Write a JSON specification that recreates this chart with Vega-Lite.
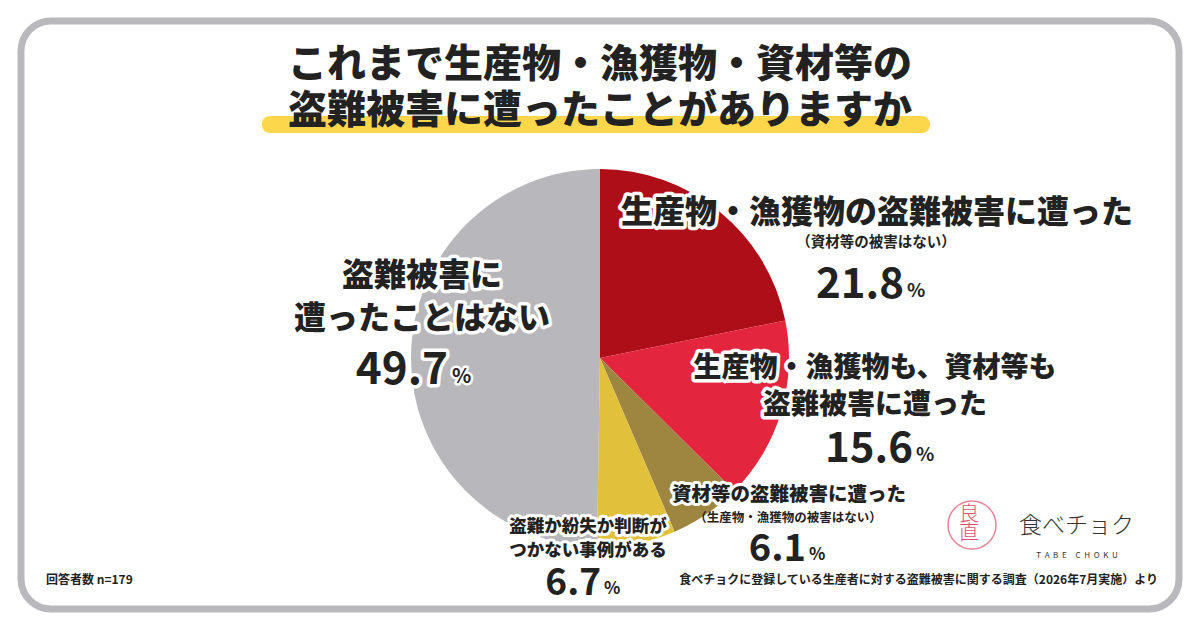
{
  "$schema": "https://vega.github.io/schema/vega-lite/v6.json",
  "width": 1158,
  "height": 588,
  "padding": 21,
  "autosize": "none",
  "background": "white",
  "config": {
    "view": {"stroke": "#b9b8bc", "strokeWidth": 7, "cornerRadius": 30},
    "text": {"font": "Noto Sans CJK JP", "color": "#222222"}
  },
  "datasets": {
    "answers": [
      {"category": "生産物・漁獲物の盗難被害に遭った", "label": "生産物・漁獲物の盗難被害に遭った", "note": "（資材等の被害はない）", "pct": 21.8, "order": 1},
      {"category": "生産物・漁獲物も、資材等も盗難被害に遭った", "label": "生産物・漁獲物も、資材等も\n盗難被害に遭った", "note": "", "pct": 15.6, "order": 2},
      {"category": "資材等の盗難被害に遭った", "label": "資材等の盗難被害に遭った", "note": "（生産物・漁獲物の被害はない）", "pct": 6.1, "order": 3},
      {"category": "盗難か紛失か判断がつかない事例がある", "label": "盗難か紛失か判断が\nつかない事例がある", "note": "", "pct": 6.7, "order": 4},
      {"category": "盗難被害に遭ったことはない", "label": "盗難被害に\n遭ったことはない", "note": "", "pct": 49.7, "order": 5}
    ],
    "deco": [{"title": "これまで生産物・漁獲物・資材等の\n盗難被害に遭ったことがありますか", "n": "回答者数 n=179", "source": "食べチョクに登録している生産者に対する盗難被害に関する調査（2026年7月実施）より", "brand": "食べチョク", "brandLatin": "T\u00a0\u00a0A\u00a0\u00a0B\u00a0\u00a0E\u00a0\u00a0\u00a0\u00a0\u00a0C\u00a0\u00a0H\u00a0\u00a0O\u00a0\u00a0K\u00a0\u00a0U"}]
  },
  "data": {"name": "answers"},
  "layer": [
    {
      "data": {"name": "deco"},
      "mark": {"type": "rect", "color": "#fcd74c", "cornerRadius": 8},
      "encoding": {"x": {"value": 241}, "x2": {"value": 909}, "y": {"value": 95}, "y2": {"value": 112}}
    },
    {
      "data": {"name": "deco"},
      "mark": {"type": "text", "fontSize": 39, "fontWeight": 900, "align": "center", "baseline": "middle", "lineBreak": "\n", "lineHeight": 46},
      "encoding": {"text": {"field": "title"}, "x": {"value": 579}, "y": {"value": 44}}
    },
    {
      "mark": {"type": "arc", "outerRadius": 189},
      "encoding": {
        "theta": {"field": "pct", "type": "quantitative", "stack": true},
        "order": {"field": "order", "type": "quantitative"},
        "color": {"field": "category", "type": "nominal", "legend": null,
          "scale": {"domain": ["生産物・漁獲物の盗難被害に遭った", "生産物・漁獲物も、資材等も盗難被害に遭った", "資材等の盗難被害に遭った", "盗難か紛失か判断がつかない事例がある", "盗難被害に遭ったことはない"],
                    "range": ["#ae0e18", "#e3253e", "#9f8640", "#e1c03b", "#b8b7bb"]}},
        "x": {"value": 579},
        "y": {"value": 337}
      }
    },
    {
      "transform": [{"filter": "datum.order == 1"}],
      "layer": [
        {"mark": {"type": "text", "fontSize": 32, "fontWeight": 900, "align": "center", "baseline": "middle", "stroke": "white", "strokeWidth": 7, "strokeJoin": "round", "color": "white"},
         "encoding": {"text": {"field": "label"}, "x": {"value": 856}, "y": {"value": 192}}},
        {"mark": {"type": "text", "fontSize": 32, "fontWeight": 900, "align": "center", "baseline": "middle"},
         "encoding": {"text": {"field": "label"}, "x": {"value": 856}, "y": {"value": 192}}},
        {"mark": {"type": "text", "fontSize": 14.5, "fontWeight": 700, "align": "center", "baseline": "middle"},
         "encoding": {"text": {"field": "note"}, "x": {"value": 855}, "y": {"value": 222}}},
        {"mark": {"type": "text", "fontSize": 42, "fontWeight": 700, "align": "right", "baseline": "alphabetic"},
         "encoding": {"text": {"field": "pct", "format": ".1f"}, "x": {"value": 883}, "y": {"value": 277}}},
        {"mark": {"type": "text", "fontSize": 19, "fontWeight": 700, "align": "left", "baseline": "alphabetic", "text": "%"},
         "encoding": {"x": {"value": 886}, "y": {"value": 276}}}
      ]
    },
    {
      "transform": [{"filter": "datum.order == 2"}],
      "layer": [
        {"mark": {"type": "text", "fontSize": 28, "fontWeight": 900, "align": "center", "baseline": "middle", "lineBreak": "\n", "lineHeight": 37, "stroke": "white", "strokeWidth": 7, "strokeJoin": "round", "color": "white"},
         "encoding": {"text": {"field": "label"}, "x": {"value": 854}, "y": {"value": 348}}},
        {"mark": {"type": "text", "fontSize": 28, "fontWeight": 900, "align": "center", "baseline": "middle", "lineBreak": "\n", "lineHeight": 37},
         "encoding": {"text": {"field": "label"}, "x": {"value": 854}, "y": {"value": 348}}},
        {"mark": {"type": "text", "fontSize": 42, "fontWeight": 700, "align": "right", "baseline": "alphabetic"},
         "encoding": {"text": {"field": "pct", "format": ".1f"}, "x": {"value": 892}, "y": {"value": 441}}},
        {"mark": {"type": "text", "fontSize": 19, "fontWeight": 700, "align": "left", "baseline": "alphabetic", "text": "%"},
         "encoding": {"x": {"value": 895}, "y": {"value": 440}}}
      ]
    },
    {
      "transform": [{"filter": "datum.order == 3"}],
      "layer": [
        {"mark": {"type": "text", "fontSize": 19.5, "fontWeight": 900, "align": "center", "baseline": "middle", "stroke": "white", "strokeWidth": 6, "strokeJoin": "round", "color": "white"},
         "encoding": {"text": {"field": "label"}, "x": {"value": 768}, "y": {"value": 474}}},
        {"mark": {"type": "text", "fontSize": 19.5, "fontWeight": 900, "align": "center", "baseline": "middle"},
         "encoding": {"text": {"field": "label"}, "x": {"value": 768}, "y": {"value": 474}}},
        {"mark": {"type": "text", "fontSize": 12.5, "fontWeight": 700, "align": "center", "baseline": "middle"},
         "encoding": {"text": {"field": "note"}, "x": {"value": 767}, "y": {"value": 497}}},
        {"mark": {"type": "text", "fontSize": 38, "fontWeight": 700, "align": "right", "baseline": "alphabetic"},
         "encoding": {"text": {"field": "pct", "format": ".1f"}, "x": {"value": 785}, "y": {"value": 540}}},
        {"mark": {"type": "text", "fontSize": 17, "fontWeight": 700, "align": "left", "baseline": "alphabetic", "text": "%"},
         "encoding": {"x": {"value": 788}, "y": {"value": 539}}}
      ]
    },
    {
      "transform": [{"filter": "datum.order == 4"}],
      "layer": [
        {"mark": {"type": "text", "fontSize": 17.5, "fontWeight": 900, "align": "center", "baseline": "middle", "lineBreak": "\n", "lineHeight": 24, "stroke": "white", "strokeWidth": 6, "strokeJoin": "round", "color": "white"},
         "encoding": {"text": {"field": "label"}, "x": {"value": 567}, "y": {"value": 506}}},
        {"mark": {"type": "text", "fontSize": 17.5, "fontWeight": 900, "align": "center", "baseline": "middle", "lineBreak": "\n", "lineHeight": 24},
         "encoding": {"text": {"field": "label"}, "x": {"value": 567}, "y": {"value": 506}}},
        {"mark": {"type": "text", "fontSize": 37, "fontWeight": 700, "align": "right", "baseline": "alphabetic"},
         "encoding": {"text": {"field": "pct", "format": ".1f"}, "x": {"value": 580}, "y": {"value": 574}}},
        {"mark": {"type": "text", "fontSize": 17, "fontWeight": 700, "align": "left", "baseline": "alphabetic", "text": "%"},
         "encoding": {"x": {"value": 583}, "y": {"value": 573}}}
      ]
    },
    {
      "transform": [{"filter": "datum.order == 5"}],
      "layer": [
        {"mark": {"type": "text", "fontSize": 32, "fontWeight": 900, "align": "center", "baseline": "middle", "lineBreak": "\n", "lineHeight": 43, "stroke": "white", "strokeWidth": 7, "strokeJoin": "round", "color": "white"},
         "encoding": {"text": {"field": "label"}, "x": {"value": 401}, "y": {"value": 255}}},
        {"mark": {"type": "text", "fontSize": 32, "fontWeight": 900, "align": "center", "baseline": "middle", "lineBreak": "\n", "lineHeight": 43},
         "encoding": {"text": {"field": "label"}, "x": {"value": 401}, "y": {"value": 255}}},
        {"mark": {"type": "text", "fontSize": 44, "fontWeight": 700, "align": "right", "baseline": "alphabetic", "stroke": "white", "strokeWidth": 7, "strokeJoin": "round", "color": "white"},
         "encoding": {"text": {"field": "pct", "format": ".1f"}, "x": {"value": 427}, "y": {"value": 363}}},
        {"mark": {"type": "text", "fontSize": 44, "fontWeight": 700, "align": "right", "baseline": "alphabetic"},
         "encoding": {"text": {"field": "pct", "format": ".1f"}, "x": {"value": 427}, "y": {"value": 363}}},
        {"mark": {"type": "text", "fontSize": 20, "fontWeight": 700, "align": "left", "baseline": "alphabetic", "text": "%", "stroke": "white", "strokeWidth": 5, "strokeJoin": "round", "color": "white"},
         "encoding": {"x": {"value": 431}, "y": {"value": 362}}},
        {"mark": {"type": "text", "fontSize": 20, "fontWeight": 700, "align": "left", "baseline": "alphabetic", "text": "%"},
         "encoding": {"x": {"value": 431}, "y": {"value": 362}}}
      ]
    },
    {
      "data": {"name": "deco"},
      "layer": [
        {"mark": {"type": "text", "fontSize": 12, "fontWeight": 700, "align": "left", "baseline": "middle"},
         "encoding": {"text": {"field": "n"}, "x": {"value": 25}, "y": {"value": 559}}},
        {"mark": {"type": "text", "fontSize": 12, "fontWeight": 700, "align": "right", "baseline": "middle"},
         "encoding": {"text": {"field": "source"}, "x": {"value": 1137}, "y": {"value": 559}}},
        {"mark": {"type": "point", "shape": "circle", "size": 2300, "filled": false, "stroke": "#e0506a", "strokeWidth": 1.5},
         "encoding": {"x": {"value": 951}, "y": {"value": 504}}},
        {"mark": {"type": "text", "fontSize": 20, "fontWeight": 300, "align": "center", "baseline": "middle", "color": "#e0506a", "text": ["良", "直"], "lineHeight": 19},
         "encoding": {"x": {"value": 948}, "y": {"value": 494}}},
        {"mark": {"type": "text", "fontSize": 23, "fontWeight": 300, "align": "left", "baseline": "middle", "color": "#333333"},
         "encoding": {"text": {"field": "brand"}, "x": {"value": 998}, "y": {"value": 505}}},
        {"mark": {"type": "text", "fontSize": 8, "fontWeight": 400, "align": "center", "baseline": "middle", "color": "#333333"},
         "encoding": {"text": {"field": "brandLatin"}, "x": {"value": 1056}, "y": {"value": 535}}}
      ]
    }
  ]
}
